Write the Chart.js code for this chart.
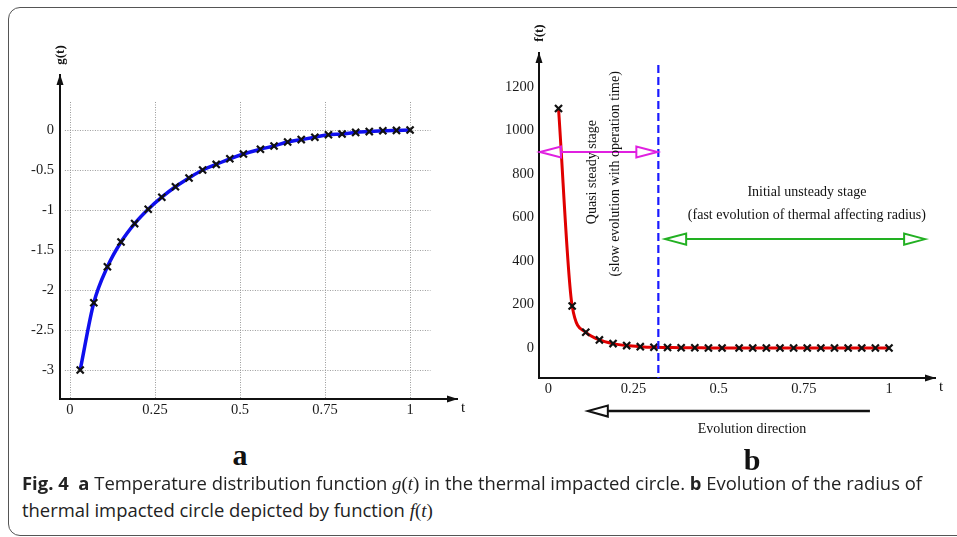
<!DOCTYPE html>
<html><head><meta charset="utf-8">
<script src="https://cdn.jsdelivr.net/npm/chart.js@4/dist/chart.umd.min.js"></script>
<style>
html,body{margin:0;padding:0;background:#fff;width:957px;height:537px;overflow:hidden;position:relative;}
#frame{position:absolute;left:8px;top:7px;width:990px;height:529px;border:1px solid #555;border-radius:12px;box-sizing:border-box;}
#ca{position:absolute;left:0;top:0;}
#cb{position:absolute;left:480px;top:0;}
.lbl{position:absolute;font:bold 30px "Liberation Serif";line-height:30px;color:#111;transform:translateX(-50%);}
.cap{position:absolute;left:22px;font-family:"Open Sans";font-size:18.5px;line-height:20px;color:#222;white-space:nowrap;transform-origin:0 0;}
.m{font-family:"Liberation Serif";font-size:19px;}
</style></head>
<body>
<div id="frame"></div>
<canvas id="ca" width="480" height="430"></canvas>
<canvas id="cb" width="477" height="445"></canvas>
<div class="lbl" style="left:240px;top:440px">a</div>
<div class="lbl" style="left:752px;top:445px">b</div>
<div class="cap" id="cap1" style="top:473px"><b>Fig. 4</b>&nbsp; <b>a</b> Temperature distribution function <span class="m"><i>g</i>(<i>t</i>)</span> in the thermal impacted circle. <b>b</b> Evolution of the radius of</div>
<div class="cap" id="cap2" style="top:500px">thermal impacted circle depicted by function <span class="m"><i>f</i>(<i>t</i>)</span></div>
<script>
// ---- data ----
const tValues = [0.03,0.07,0.11,0.15,0.19,0.23,0.27,0.31,0.35,0.39,0.43,0.47,0.51,0.56,0.60,0.64,0.68,0.72,0.76,0.80,0.84,0.88,0.92,0.96,1.00];
const gValues = [-3.0,-2.16,-1.71,-1.40,-1.17,-0.99,-0.84,-0.71,-0.60,-0.50,-0.43,-0.36,-0.30,-0.24,-0.20,-0.15,-0.12,-0.09,-0.06,-0.05,-0.03,-0.02,-0.01,-0.005,0];
const fValues = [1100,193,72,37,20,11,6,3,2,1,1,0,0,0,0,0,0,0,0,0,0,0,0,0,0];
const xTicks = [0,0.25,0.5,0.75,1];
const xTickLabels = ['0','0.25','0.5','0.75','1'];
const gTicks = [0,-0.5,-1,-1.5,-2,-2.5,-3];
const gTickLabels = ['0','-0.5','-1','-1.5','-2','-2.5','-3'];
const fTicks = [0,200,400,600,800,1000,1200];
const fTickLabels = ['0','200','400','600','800','1000','1200'];
const stageBoundaryT = 0.323;

const SERIF = 'Liberation Serif';
const AX = '#111';

function head(ctx, x, y, ang, len, half, filled){
  ctx.save(); ctx.translate(x,y); ctx.rotate(ang);
  ctx.beginPath(); ctx.moveTo(0,0); ctx.lineTo(-len,-half); ctx.lineTo(-len,half); ctx.closePath();
  if(filled) ctx.fill(); else ctx.stroke();
  ctx.restore();
}
function text(ctx, s, x, y, font, rot){
  ctx.save(); ctx.translate(x,y); if(rot) ctx.rotate(rot);
  ctx.font = font; ctx.fillStyle = '#111'; ctx.textAlign='center'; ctx.textBaseline='middle';
  ctx.fillText(s,0,0); ctx.restore();
}
function axisArrows(chart, yLabel){
  const ctx = chart.ctx, a = chart.chartArea;
  ctx.save(); ctx.fillStyle = AX;
  head(ctx, a.left, a.top-1, -Math.PI/2, 11, 3.5, true);
  head(ctx, a.right+1, a.bottom, 0, 11, 3.5, true);
  text(ctx, 't', a.right+6, a.bottom+9, '15px '+SERIF);
  text(ctx, yLabel, a.left+1, a.top-20, 'bold 13px '+SERIF, -Math.PI/2);
  ctx.restore();
}
function scaleX(min,max){
  return {type:'linear',min:min,max:max,
    grid:{display:false,drawTicks:false},border:{display:true,color:AX,width:2},
    ticks:{font:{family:SERIF,size:14.5},color:'#1a1a1a',padding:2,maxRotation:0,autoSkip:false,
      callback:(v)=>{const i=xTicks.indexOf(v);return i>=0?xTickLabels[i]:'';}},
    afterBuildTicks:s=>{s.ticks=xTicks.map(v=>({value:v}));},
    afterFit:s=>{s.height=25;}};
}
function scaleY(min,max,ticks,labels,pad,w){
  return {type:'linear',min:min,max:max,
    grid:{display:false,drawTicks:false},border:{display:true,color:AX,width:2},
    ticks:{font:{family:SERIF,size:14.5},color:'#1a1a1a',padding:pad,autoSkip:false,
      callback:(v)=>{const i=ticks.indexOf(v);return i>=0?labels[i]:'';}},
    afterBuildTicks:s=>{s.ticks=ticks.map(v=>({value:v}));},
    afterFit:s=>{s.width=w;}};
}

// ---- chart a ----
const gridPlugin = {
  id:'gridA',
  beforeDatasetsDraw(chart){
    const ctx=chart.ctx, xs=chart.scales.x, ys=chart.scales.y, a=chart.chartArea;
    ctx.save(); ctx.strokeStyle='#9a9a9a'; ctx.lineWidth=1; ctx.setLineDash([1,1.5]);
    const yTop = ys.getPixelForValue(0.35);
    xTicks.forEach(v=>{const x=Math.round(xs.getPixelForValue(v))+0.5; ctx.beginPath(); ctx.moveTo(x,yTop); ctx.lineTo(x,a.bottom-1); ctx.stroke();});
    const xl = xs.getPixelForValue(-0.015), xr = xs.getPixelForValue(1.06);
    gTicks.forEach(v=>{const y=Math.round(ys.getPixelForValue(v))+0.5; ctx.beginPath(); ctx.moveTo(xl,y); ctx.lineTo(xr,y); ctx.stroke();});
    ctx.restore();
  },
  afterDraw(chart){ axisArrows(chart,'g(t)'); }
};
new Chart(document.getElementById('ca'),{
  type:'line',
  data:{labels:tValues,datasets:[{data:tValues.map((t,i)=>({x:t,y:gValues[i]})),
    borderColor:'#0f0fee',borderWidth:3.5,cubicInterpolationMode:'monotone',
    pointStyle:'crossRot',pointRadius:5,pointBorderColor:'#111',pointBorderWidth:2.2,pointBackgroundColor:'#111'}]},
  options:{responsive:false,animation:false,devicePixelRatio:1,
    layout:{padding:{left:0,top:75,right:23,bottom:6}},
    plugins:{legend:{display:false},tooltip:{enabled:false}},
    scales:{x:scaleX(-0.0294,1.138),y:scaleY(-3.3625,0.6875,gTicks,gTickLabels,6,60)}},
  plugins:[gridPlugin]
});

// ---- chart b ----
const annoPlugin = {
  id:'annoB',
  afterDraw(chart){
    const ctx=chart.ctx, xs=chart.scales.x, ys=chart.scales.y, a=chart.chartArea;
    const X=v=>xs.getPixelForValue(v), Y=v=>ys.getPixelForValue(v);
    ctx.save();
    // dashed boundary
    ctx.strokeStyle='#1a1aff'; ctx.lineWidth=2.2; ctx.setLineDash([8,4]);
    const xb=X(stageBoundaryT);
    ctx.beginPath(); ctx.moveTo(xb,Y(1300)); ctx.lineTo(xb,a.bottom); ctx.stroke();
    ctx.setLineDash([]);
    // magenta double arrow
    ctx.strokeStyle='#e020e0'; ctx.lineWidth=2;
    let y=Y(900), x1=a.left+1, x2=xb-1;
    ctx.beginPath(); ctx.moveTo(x1+21,y); ctx.lineTo(x2-21,y); ctx.stroke();
    head(ctx,x1,y,Math.PI,21,5.5,false); head(ctx,x2,y,0,21,5.5,false);
    // green double arrow
    ctx.strokeStyle='#22b022';
    y=Y(500); x1=X(0.343); x2=X(1.106);
    ctx.beginPath(); ctx.moveTo(x1+21,y); ctx.lineTo(x2-21,y); ctx.stroke();
    head(ctx,x1,y,Math.PI,21,5.5,false); head(ctx,x2,y,0,21,5.5,false);
    // evolution direction arrow
    ctx.strokeStyle='#111'; ctx.lineWidth=2.5;
    y=Y(-290); x1=X(0.116); x2=X(0.944);
    ctx.beginPath(); ctx.moveTo(x1+20,y); ctx.lineTo(x2,y); ctx.stroke();
    ctx.lineWidth=2; head(ctx,x1,y,Math.PI,20,5.5,false);
    // texts
    const F='14px '+SERIF;
    text(ctx,'Initial unsteady stage',X(0.759),Y(716),F);
    text(ctx,'(fast evolution of thermal affecting radius)',X(0.759),Y(611),F);
    text(ctx,'Quasi steady stage',X(0.128),Y(808),F,-Math.PI/2);
    text(ctx,'(slow evolution with operation time)',X(0.196),Y(800),F,-Math.PI/2);
    text(ctx,'Evolution direction',X(0.598),Y(-372),F);
    ctx.restore();
    axisArrows(chart,'f(t)');
  }
};
new Chart(document.getElementById('cb'),{
  type:'line',
  data:{labels:tValues,datasets:[{data:tValues.map((t,i)=>({x:t,y:fValues[i]})),
    borderColor:'#e00000',borderWidth:3,cubicInterpolationMode:'monotone',
    pointStyle:'crossRot',pointRadius:5,pointBorderColor:'#111',pointBorderWidth:2.2,pointBackgroundColor:'#111'}]},
  options:{responsive:false,animation:false,devicePixelRatio:1,
    layout:{padding:{left:0,top:53,right:22,bottom:42}},
    plugins:{legend:{display:false},tooltip:{enabled:false}},
    scales:{x:scaleX(-0.0273,1.135),y:scaleY(-138,1355,fTicks,fTickLabels,5,59)}},
  plugins:[annoPlugin]
});

// caption width fit
const c1=document.getElementById('cap1'), c2=document.getElementById('cap2');
const k = 900 / c1.getBoundingClientRect().width;
c1.style.transform = c2.style.transform = 'scaleX('+k+')';
</script>
</body></html>
